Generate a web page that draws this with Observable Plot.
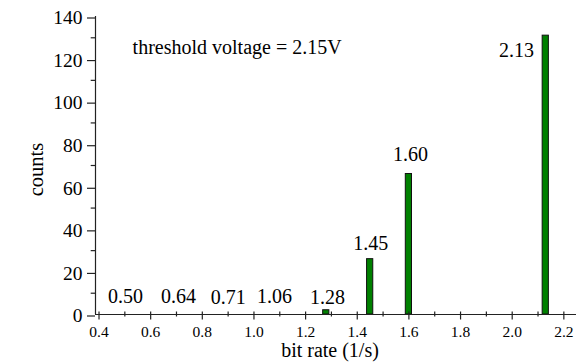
<!DOCTYPE html>
<html><head><meta charset="utf-8">
<script src="https://cdn.jsdelivr.net/npm/d3@7"></script>
<script src="https://cdn.jsdelivr.net/npm/@observablehq/plot@0.6"></script>
<style>body{margin:0;background:#fff}</style>
</head><body><div id="chart"></div>
<script>
const rates = [0.50, 0.64, 0.71, 1.06, 1.28, 1.45, 1.60, 2.13];
const counts = [0, 0, 0, 0, 2, 26, 66, 131];
const labelText = ["0.50", "0.64", "0.71", "1.06", "1.28", "1.45", "1.60", "2.13"];
const labelX = [0.503, 0.708, 0.900, 1.080, 1.285, 1.452, 1.606, 2.017];
const labelY = [5.2, 5.2, 4.7, 5.5, 4.7, 30.1, 72.0, 120.8];
const xMajor = [0.4, 0.6, 0.8, 1.0, 1.2, 1.4, 1.6, 1.8, 2.0, 2.2];
const xMinor = [0.5, 0.7, 0.9, 1.1, 1.3, 1.5, 1.7, 1.9, 2.1];
const yMajor = [0, 20, 40, 60, 80, 100, 120, 140];
const yMinor = [10, 30, 50, 70, 90, 110, 130];
const noteText = ["threshold voltage = 2.15V"];
const noteX = 0.530, noteY = 122.2;
const xTitle = "bit rate (1/s)";
const yTitle = "counts";
const xDomain = [0.3864, 2.249];
const yDomain = [0, 140];

const bars = rates.map((r, i) => ({rate: r, count: counts[i]})).filter(d => d.count > 0);
const labels = labelText.map((t, i) => ({t, x: labelX[i], y: labelY[i]}));
const barW = 0.024;
const FONT = "Liberation Serif";

const chart = Plot.plot({
  width: 583, height: 362,
  marginLeft: 95, marginRight: 7, marginTop: 16, marginBottom: 48,
  style: {fontFamily: FONT, fontSize: "20px", background: "#fff", color: "#000"},
  x: {domain: xDomain},
  y: {domain: yDomain},
  marks: [
    Plot.rectY(bars, {x1: d => d.rate - barW / 2, x2: d => d.rate + barW / 2, y1: 0, y2: "count",
      fill: "#008000", stroke: "#111", strokeWidth: 1}),
    Plot.ruleY([0], {stroke: "#222", strokeWidth: 1.2}),
    Plot.ruleX([xDomain[0]], {stroke: "#222", strokeWidth: 1.2}),
    Plot.ruleX(xMajor, {y1: 0, y2: 1.17, stroke: "#222", strokeWidth: 1.2}),
    Plot.ruleX(xMinor, {y1: -1.17, y2: 1.17, stroke: "#222", strokeWidth: 1.2}),
    Plot.axisX({ticks: xMajor, tickSize: 5.5, tickPadding: 6.2, tickFormat: d3.format(".1f"),
      fontSize: 15.5, fontFamily: FONT, label: null, stroke: "#222", strokeWidth: 1.2}),
    Plot.axisY({ticks: yMajor, tickSize: 8, tickPadding: 5, tickFormat: d => d,
      fontSize: 19.5, fontFamily: FONT, label: null, dy: 1.5, stroke: "#222", strokeWidth: 1.2}),
    Plot.axisY({ticks: yMinor, tickSize: 4.3, text: null, label: null, stroke: "#222", strokeWidth: 1.2}),
    Plot.text(labels, {x: "x", y: "y", text: "t", fontSize: 20, fontFamily: FONT, lineAnchor: "bottom", textAnchor: "middle"}),
    Plot.text(noteText, {x: () => noteX, y: () => noteY, text: d => d, fontSize: 20, fontFamily: FONT,
      lineAnchor: "bottom", textAnchor: "start"}),
    Plot.text([xTitle], {frameAnchor: "bottom", text: d => d, fontSize: 20, fontFamily: FONT, lineAnchor: "bottom",
      textAnchor: "middle", dy: 42.7, dx: -6}),
    Plot.text([yTitle], {frameAnchor: "left", text: d => d, fontSize: 20.5, fontFamily: FONT, lineAnchor: "bottom",
      textAnchor: "middle", rotate: -90, dx: -53, dy: 4})
  ]
});
document.getElementById("chart").appendChild(chart);
</script>
</body></html>
